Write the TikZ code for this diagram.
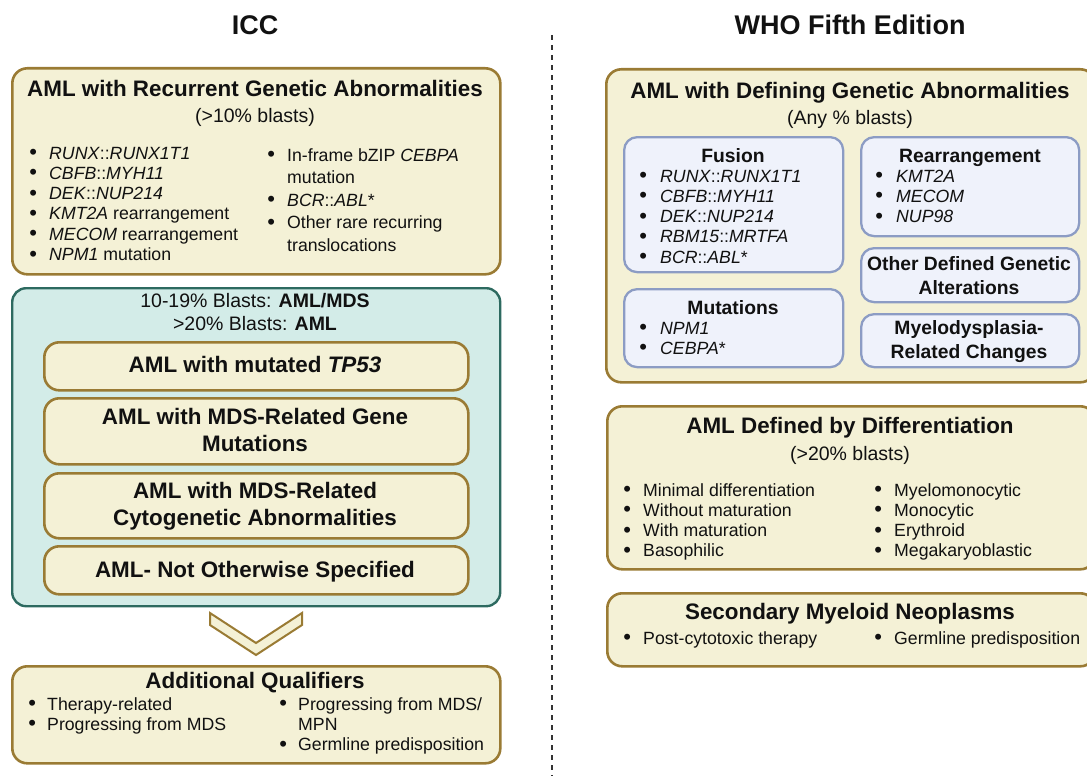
\documentclass[tikz,border=0pt]{standalone}
\usepackage{fontspec}
\setmainfont{Liberation Sans}

\definecolor{ink}{HTML}{111111}
\definecolor{yfill}{HTML}{F4F1D6}
\definecolor{goldedge}{HTML}{9A7B34}
\definecolor{tealfill}{HTML}{D3ECE8}
\definecolor{tealedge}{HTML}{2D6A60}
\definecolor{bluefill}{HTML}{EFF2FB}
\definecolor{blueedge}{HTML}{8C9CC4}
\definecolor{divider}{HTML}{333333}

% font sizes
\newcommand\FsTitle{\fontsize{27}{32}\selectfont\bfseries}
\newcommand\FsHead{\fontsize{22.4}{27.5}\selectfont\bfseries}
\newcommand\FsSmallHead{\fontsize{19.3}{24}\selectfont\bfseries}
\newcommand\FsSub{\fontsize{19.5}{23}\selectfont}
\newcommand\FsBody{\fontsize{17.7}{20.3}\selectfont}
\newcommand\FsBodyWide{\fontsize{17.7}{22.5}\selectfont}

% bullet list with hanging text column
\newcommand\BList[2]{\begin{tabular}[t]{@{}l@{\hspace{#1}}l@{}}#2\end{tabular}}
\newcommand\CLines[1]{\begin{tabular}[t]{@{}c@{}}#1\end{tabular}}
\newcommand\bul{\makebox[6.2pt][c]{\raisebox{-0.6pt}{\fontsize{22}{22}\selectfont\textbullet}}}

% rounded panel from corner (x1,y1) to (x2,y2)
\newcommand\Panel[6]{\node[#1, anchor=north west,
  minimum width={#5-#3}, minimum height={#6-#4}] (#2) at (#3,#4) {};}

\tikzset{
  ybox/.style={draw=goldedge, fill=yfill, line width=2.6pt, rounded corners=15pt, inner sep=0pt},
  tbox/.style={draw=tealedge, fill=tealfill, line width=2.4pt, rounded corners=14pt, inner sep=0pt},
  bbox/.style={draw=blueedge, fill=bluefill, line width=2.3pt, rounded corners=13pt, inner sep=0pt},
  txt/.style={inner sep=0pt, text=ink},
  chev/.style={draw=goldedge, fill=yfill, line width=2pt, line join=miter},
  divline/.style={draw=divider, line width=2.5pt, dash pattern=on 5pt off 5pt},
}

\begin{document}
\begin{tikzpicture}[x=1pt, y=-1pt]
\useasboundingbox (0,0) rectangle (1087,776);
\clip (0,0) rectangle (1087,776);

% ---------- titles and divider ----------
\node[txt, font=\FsTitle, anchor=base] (t-icc) at (255,35) {ICC};
\node[txt, font=\FsTitle, anchor=base] (t-who) at (850,35) {WHO Fifth Edition};
\coordinate (divtop) at (552,35);
\coordinate (divbot) at (552,778);
\draw[divline] (divtop) -- (divbot);

% ---------- ICC column ----------
\Panel{ybox}{rga}{11}{67}{499}{273}
\node[txt, font=\FsHead, anchor=base] (rga-h) at (255,96) {AML with Recurrent Genetic Abnormalities};
\node[txt, font=\FsSub, anchor=base] (rga-s) at (255,122) {(>10\% blasts)};
\node[txt, font=\FsBody, anchor=base west] (rga-l) at (30,159) {\BList{12.8pt}{%
  \bul & \textit{RUNX}::\textit{RUNX1T1}\\
  \bul & \textit{CBFB}::\textit{MYH11}\\
  \bul & \textit{DEK}::\textit{NUP214}\\
  \bul & \textit{KMT2A} rearrangement\\
  \bul & \textit{MECOM} rearrangement\\
  \bul & \textit{NPM1} mutation}};
\node[txt, font=\FsBodyWide, anchor=base west] (rga-r) at (268,161) {\BList{12.8pt}{%
  \bul & In-frame bZIP \textit{CEBPA}\\
       & mutation\\
  \bul & \textit{BCR}::\textit{ABL}*\\
  \bul & Other rare recurring\\
       & translocations}};

\Panel{tbox}{blast}{11}{287}{499}{605}
\node[txt, font=\FsSub, anchor=base] (blast-a) at (255,307) {10-19\% Blasts: \textbf{AML/MDS}};
\node[txt, font=\FsSub, anchor=base] (blast-b) at (255,330) {>20\% Blasts: \textbf{AML}};

\Panel{ybox}{tp53}{43}{341}{467}{389}
\node[txt, font=\FsHead, anchor=base] (tp53-t) at (255,372) {AML with mutated \textit{TP53}};
\Panel{ybox}{mdsg}{43}{397}{467}{463}
\node[txt, font=\FsHead, anchor=base] (mdsg-t) at (255,424) {\CLines{AML with MDS-Related Gene\\Mutations}};
\Panel{ybox}{mdsc}{43}{472}{467}{537}
\node[txt, font=\FsHead, anchor=base] (mdsc-t) at (255,498) {\CLines{AML with MDS-Related\\Cytogenetic Abnormalities}};
\Panel{ybox}{nos}{43}{545}{467}{593}
\node[txt, font=\FsHead, anchor=base] (nos-t) at (255,577) {AML- Not Otherwise Specified};

% chevron pointing to the qualifiers
\draw[chev] (210,613) -- (210,625) -- (256,655) -- (302,625) -- (302,613) -- (256,643) -- cycle;

\Panel{ybox}{qual}{11}{665}{499}{762}
\node[txt, font=\FsHead, anchor=base] (qual-h) at (255,688) {Additional Qualifiers};
\node[txt, font=\FsBody, anchor=base west] (qual-l) at (29,710) {\BList{11.8pt}{%
  \bul & Therapy-related\\
  \bul & Progressing from MDS}};
\node[txt, font=\FsBody, anchor=base west] (qual-r) at (280,710) {\BList{11.8pt}{%
  \bul & Progressing from MDS/\\
       & MPN\\
  \bul & Germline predisposition}};

% ---------- WHO column ----------
\Panel{ybox}{dga}{605}{68}{1094}{381}
\node[txt, font=\FsHead, anchor=base] (dga-h) at (850,98) {AML with Defining Genetic Abnormalities};
\node[txt, font=\FsSub, anchor=base] (dga-s) at (850,124) {(Any \% blasts)};

\Panel{bbox}{fus}{623}{136}{842}{271}
\node[txt, font=\FsSmallHead, anchor=base] (fus-h) at (733,162) {Fusion};
\node[txt, font=\FsBody, anchor=base west] (fus-l) at (640,182) {\BList{13.8pt}{%
  \bul & \textit{RUNX}::\textit{RUNX1T1}\\
  \bul & \textit{CBFB}::\textit{MYH11}\\
  \bul & \textit{DEK}::\textit{NUP214}\\
  \bul & \textit{RBM15}::\textit{MRTFA}\\
  \bul & \textit{BCR}::\textit{ABL}*}};

\Panel{bbox}{mut}{623}{288}{842}{366}
\node[txt, font=\FsSmallHead, anchor=base] (mut-h) at (733,314) {Mutations};
\node[txt, font=\FsBody, anchor=base west] (mut-l) at (640,334) {\BList{13.8pt}{%
  \bul & \textit{NPM1}\\
  \bul & \textit{CEBPA}*}};

\Panel{bbox}{rea}{860}{136}{1078}{235}
\node[txt, font=\FsSmallHead, anchor=base] (rea-h) at (970,162) {Rearrangement};
\node[txt, font=\FsBody, anchor=base west] (rea-l) at (876,182) {\BList{13.8pt}{%
  \bul & \textit{KMT2A}\\
  \bul & \textit{MECOM}\\
  \bul & \textit{NUP98}}};

\Panel{bbox}{odg}{860}{247}{1078}{301}
\node[txt, font=\FsSmallHead, anchor=base] (odg-t) at (969,270) {\CLines{Other Defined Genetic\\Alterations}};

\Panel{bbox}{mrc}{860}{313}{1078}{366}
\node[txt, font=\FsSmallHead, anchor=base] (mrc-t) at (969,334) {\CLines{Myelodysplasia-\\Related Changes}};

\Panel{ybox}{dif}{606}{405}{1094}{568}
\node[txt, font=\FsHead, anchor=base] (dif-h) at (850,433) {AML Defined by Differentiation};
\node[txt, font=\FsSub, anchor=base] (dif-s) at (850,460) {(>20\% blasts)};
\node[txt, font=\FsBody, anchor=base west] (dif-l) at (624,496) {\BList{12.8pt}{%
  \bul & Minimal differentiation\\
  \bul & Without maturation\\
  \bul & With maturation\\
  \bul & Basophilic}};
\node[txt, font=\FsBody, anchor=base west] (dif-r) at (875,496) {\BList{12.8pt}{%
  \bul & Myelomonocytic\\
  \bul & Monocytic\\
  \bul & Erythroid\\
  \bul & Megakaryoblastic}};

\Panel{ybox}{sec}{606}{592}{1094}{665}
\node[txt, font=\FsHead, anchor=base] (sec-h) at (850,619) {Secondary Myeloid Neoplasms};
\node[txt, font=\FsBody, anchor=base west] (sec-l) at (624,644) {\BList{12.8pt}{\bul & Post-cytotoxic therapy}};
\node[txt, font=\FsBody, anchor=base west] (sec-r) at (875,644) {\BList{12.8pt}{\bul & Germline predisposition}};

\end{tikzpicture}
\end{document}
